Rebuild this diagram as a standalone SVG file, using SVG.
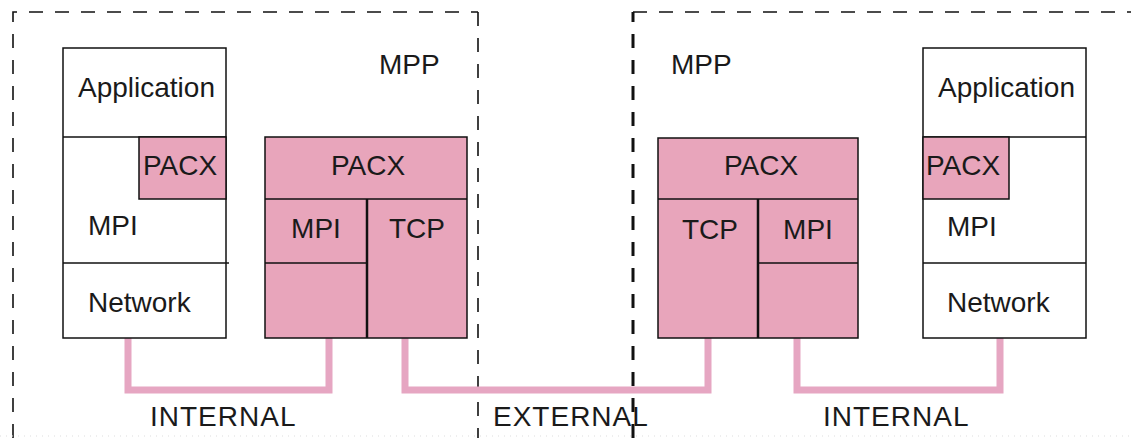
<svg xmlns="http://www.w3.org/2000/svg" width="1131" height="438" viewBox="0 0 1131 438">
<style>
.t{font-family:"Liberation Sans",Arial,sans-serif;font-size:28px;fill:#1a1a1a}
.m{text-anchor:middle}
.w{letter-spacing:1px}
.box{fill:#fff;stroke:#111;stroke-width:1.5}
.pk{fill:#e8a5bb;stroke:#111;stroke-width:1.5}
.ln{stroke:#111;stroke-width:1.5;fill:none}
.dv{stroke:#111;stroke-width:2.5}
.dash{stroke:#111;stroke-width:1.6;stroke-dasharray:14 12;fill:none}
.dashb{stroke:#111;stroke-width:3;stroke-dasharray:14 12;fill:none}
.conn{stroke:#e6a6c2;stroke-width:7;fill:none;stroke-linejoin:miter}
</style>
<rect width="1131" height="438" fill="#fff"/>
<g id="mpp-left-frame">
<path class="dash" d="M13 438 V12 H478"/>
<path class="dash" d="M478 12 V438"/>
<text class="t" x="379" y="74">MPP</text>
</g>
<g id="mpp-right-frame">
<path class="dashb" d="M633 438 V12"/>
<path class="dash" d="M633 12 H1131"/>
<text class="t" x="671" y="74">MPP</text>
</g>
<line x1="0" y1="436" x2="1131" y2="436" stroke="#ddd" stroke-width="1" stroke-dasharray="1 5"/>
<g id="connectors">
<path class="conn" d="M128 338 V390 H329 V338"/>
<path class="conn" d="M405 338 V390 H708 V338"/>
<path class="conn" d="M797 338 V390 H1000 V338"/>
</g>
<g id="app-left">
<rect class="box" x="63" y="48" width="163" height="290"/>
<line class="ln" x1="63" y1="137" x2="226" y2="137"/>
<line class="ln" x1="63" y1="263" x2="229" y2="263"/>
<rect class="pk" x="139" y="137" width="87" height="62"/>
<text class="t" x="78" y="97">Application</text>
<text class="t" x="143" y="175">PACX</text>
<text class="t" x="88" y="235">MPI</text>
<text class="t" x="88" y="312">Network</text>
</g>
<g id="mpp-stack-left">
<rect class="pk" x="265" y="137" width="202" height="201"/>
<line class="ln" x1="265" y1="199" x2="467" y2="199"/>
<line class="ln" x1="265" y1="263" x2="367" y2="263"/>
<line class="dv" x1="367" y1="199" x2="367" y2="338"/>
<text class="t m" x="368" y="175">PACX</text>
<text class="t m" x="316" y="238">MPI</text>
<text class="t m" x="417" y="238">TCP</text>
</g>
<g id="mpp-stack-right">
<rect class="pk" x="658" y="138" width="200" height="200"/>
<line class="ln" x1="658" y1="199" x2="858" y2="199"/>
<line class="ln" x1="758" y1="263" x2="858" y2="263"/>
<line class="dv" x1="758" y1="199" x2="758" y2="338"/>
<text class="t m" x="761" y="175">PACX</text>
<text class="t m" x="710" y="239">TCP</text>
<text class="t m" x="808" y="239">MPI</text>
</g>
<g id="app-right">
<rect class="box" x="923" y="48" width="163" height="290"/>
<line class="ln" x1="923" y1="137" x2="1086" y2="137"/>
<line class="ln" x1="923" y1="263" x2="1086" y2="263"/>
<rect class="pk" x="923" y="137" width="86" height="62"/>
<text class="t" x="938" y="97">Application</text>
<text class="t" x="926" y="175">PACX</text>
<text class="t" x="947" y="236">MPI</text>
<text class="t" x="947" y="312">Network</text>
</g>
<g id="labels">
<text class="t w" x="150" y="426">INTERNAL</text>
<text class="t w" x="493" y="426">EXTERNAL</text>
<text class="t w" x="823" y="426">INTERNAL</text>
</g>
</svg>
